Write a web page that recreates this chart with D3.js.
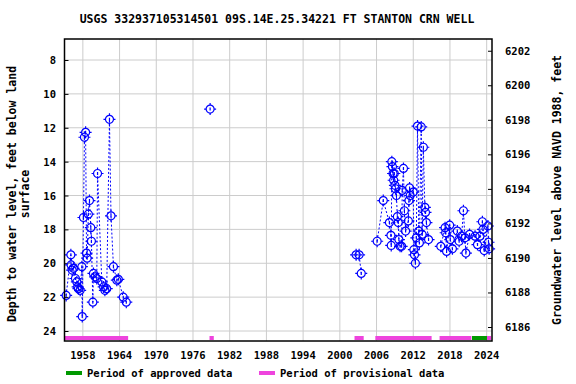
<!DOCTYPE html>
<html>
<head>
<meta charset="utf-8">
<script src="https://cdn.jsdelivr.net/npm/d3@7"></script>
<style>
  body { margin: 0; background: #FFFFFF; }
  text { font-family: "DejaVu Sans Mono", monospace; font-weight: bold; font-size: 11.5px; fill: #000000; }
  text.small { font-size: 10.5px; }
</style>
</head>
<body>
<div id="chart"></div>
<script>
// measurements: decimal year, depth below land surface (ft)
const years = [
    1955.27, 1956.04, 1956.08, 1956.25, 1956.46, 1956.79, 1957.02, 1957.15, 1957.28, 1957.56,
    1957.84, 1957.90, 1958.10, 1958.26, 1958.45, 1958.60, 1958.70, 1958.90, 1959.08, 1959.30,
    1959.40, 1959.63, 1959.73, 1960.00, 1960.28, 1960.40, 1961.10, 1961.40, 1961.60, 1961.90,
    1962.35, 1962.60, 1963.00, 1963.55, 1963.80, 1964.60, 1965.10,
    1978.80,
    2002.66, 2003.15, 2003.50,
    2006.10, 2007.10, 2008.10, 2008.35, 2008.40, 2008.50, 2008.60, 2008.70, 2008.80, 2008.90,
    2009.00, 2009.10, 2009.25, 2009.40, 2009.55, 2009.65, 2009.85, 2010.10, 2010.20, 2010.40,
    2010.55, 2010.75, 2011.20, 2011.30, 2011.40, 2011.50, 2012.00, 2012.10, 2012.20, 2012.35,
    2012.50, 2012.70, 2012.90, 2013.00, 2013.30, 2013.45, 2013.65, 2013.90, 2014.00, 2014.15,
    2014.50,
    2016.50, 2017.20, 2017.30, 2017.45, 2017.95, 2018.05, 2018.40, 2019.20, 2019.50, 2019.90,
    2020.20, 2020.45, 2020.60, 2021.20, 2022.10, 2022.50, 2022.90, 2023.30, 2023.40, 2023.60,
    2024.20, 2024.30, 2024.40
];
const depths = [
    21.9, 19.5, 20.1, 20.4, 20.3, 20.9, 21.1, 21.4, 21.5, 21.6,
    20.2, 23.15, 17.3, 12.56, 12.27, 19.4, 19.7, 17.1, 16.3, 17.9,
    18.7, 22.3, 20.6, 20.8, 20.9, 14.7, 21.1, 21.4, 21.6, 21.5,
    11.5, 17.2, 20.2, 21.0, 20.95, 22.0, 22.3,
    10.9,
    19.5, 19.5, 20.6,
    18.7, 16.3, 17.6, 18.35, 18.95, 14.0, 14.3, 14.7, 15.1, 14.7,
    15.4, 15.6, 16.0, 17.25, 17.6, 18.6, 19.0, 19.0, 15.7, 14.4,
    16.9, 18.1, 17.5, 16.3, 15.55, 16.0, 15.8, 19.2, 19.5, 20.0,
    18.5, 11.9, 18.1, 18.8, 11.95, 18.3, 13.15, 16.7, 17.0, 17.6,
    18.6,
    19.0, 17.9, 18.2, 19.3, 17.75, 18.6, 19.15, 18.1, 18.7, 18.4,
    16.9, 18.5, 19.4, 18.3, 18.4, 18.9, 18.4, 17.55, 18.0, 19.25,
    17.8, 18.76, 19.15
];

// data-quality periods along the bottom
const periodStart = [1955.05, 1978.7, 2002.4, 2005.8, 2016.3, 2021.6, 2024.05];
const periodEnd   = [1965.4, 1979.4, 2003.9, 2015.0, 2021.5, 2024.05, 2024.7];
const periodType  = ["provisional", "provisional", "provisional", "provisional", "provisional", "approved", "provisional"];

const xTicks = [1958, 1964, 1970, 1976, 1982, 1988, 1994, 2000, 2006, 2012, 2018, 2024];
const depthTicks = [8, 10, 12, 14, 16, 18, 20, 22, 24];
const elevTicks = [6186, 6188, 6190, 6192, 6194, 6196, 6198, 6200, 6202];

const svgAttr = { width: 576, height: 384 };
const plot = { left: 64.5, right: 492, top: 39, bottom: 341 };
const colors = {
    point: "#0000FF",
    grid: "#CCCCCC",
    approved: "#009900",
    provisional: "#EE44DD"
};

const x = d3.scaleLinear().domain([1955.0, 2024.87]).range([plot.left, plot.right]);
const yDepth = d3.scaleLinear().domain([6.76, 24.59]).range([plot.top, plot.bottom]);
const yElev = d3.scaleLinear().domain([6202.68, 6185.19]).range([plot.top, plot.bottom]);

const svg = d3.select("#chart")
              .append("svg")
              .attr("width", svgAttr.width)
              .attr("height", svgAttr.height);

// title
svg.append("text")
   .attr("x", 277)
   .attr("y", 23)
   .attr("text-anchor", "middle")
   .text("USGS 332937105314501 09S.14E.25.34221 FT STANTON CRN WELL");

// grid
svg.append("g")
   .selectAll("line")
   .data(xTicks)
   .join("line")
   .attr("x1", d => x(d)).attr("x2", d => x(d))
   .attr("y1", plot.top).attr("y2", plot.bottom)
   .attr("stroke", colors.grid);

svg.append("g")
   .selectAll("line")
   .data(depthTicks)
   .join("line")
   .attr("x1", plot.left).attr("x2", plot.right)
   .attr("y1", d => yDepth(d)).attr("y2", d => yDepth(d))
   .attr("stroke", colors.grid);

// axes (ticks pointing inward)
const leftAxis = svg.append("g")
   .attr("transform", `translate(${plot.left},0)`)
   .call(d3.axisRight(yDepth).tickValues(depthTicks).tickSize(4).tickFormat(""));
leftAxis.select(".domain").remove();
svg.append("g")
   .selectAll("text")
   .data(depthTicks)
   .join("text")
   .attr("class", "small")
   .attr("x", 56)
   .attr("y", d => yDepth(d) + 4)
   .attr("text-anchor", "end")
   .text(d => d);

const rightAxis = svg.append("g")
   .attr("transform", `translate(${plot.right},0)`)
   .call(d3.axisLeft(yElev).tickValues(elevTicks).tickSize(4).tickFormat(""));
rightAxis.select(".domain").remove();
svg.append("g")
   .selectAll("text")
   .data(elevTicks)
   .join("text")
   .attr("class", "small")
   .attr("x", 505)
   .attr("y", d => yElev(d) + 4)
   .attr("text-anchor", "start")
   .text(d => d);

svg.append("g")
   .selectAll("text")
   .data(xTicks)
   .join("text")
   .attr("class", "small")
   .attr("x", d => x(d))
   .attr("y", 359)
   .attr("text-anchor", "middle")
   .text(d => d);

// axis titles
svg.append("text")
   .attr("transform", "translate(16,194) rotate(-90)")
   .attr("text-anchor", "middle")
   .text("Depth to water level, feet below land");
svg.append("text")
   .attr("transform", "translate(29,194) rotate(-90)")
   .attr("text-anchor", "middle")
   .text("surface");
svg.append("text")
   .attr("transform", "translate(561,190) rotate(-90)")
   .attr("text-anchor", "middle")
   .text("Groundwater level above NAVD 1988, feet");

// period bars
svg.append("g")
   .selectAll("rect")
   .data(periodStart.map((s, i) => ({ s: s, e: periodEnd[i], t: periodType[i] })))
   .join("rect")
   .attr("x", d => x(d.s))
   .attr("y", 336)
   .attr("width", d => x(d.e) - x(d.s))
   .attr("height", 4)
   .attr("fill", d => colors[d.t]);

// connecting lines, broken across long gaps
const points = years.map((y, i) => ({ year: y, depth: depths[i] }));
const segments = [];
points.forEach((p, i) => {
    if (i === 0 || p.year - points[i - 1].year > 1.5) segments.push([]);
    segments[segments.length - 1].push(p);
});
const line = d3.line().x(d => x(d.year)).y(d => yDepth(d.depth));
svg.append("g")
   .selectAll("path")
   .data(segments.filter(s => s.length > 1))
   .join("path")
   .attr("d", line)
   .attr("fill", "none")
   .attr("stroke", colors.point)
   .attr("stroke-width", 1)
   .attr("stroke-dasharray", "2,2");

// markers: circle with small ticks
const marker = svg.append("g")
   .selectAll("g")
   .data(points)
   .join("g")
   .attr("transform", d => `translate(${x(d.year)},${yDepth(d.depth)})`)
   .attr("stroke", colors.point)
   .attr("stroke-width", 1.2)
   .attr("fill", "none");
marker.append("circle").attr("r", 4);
marker.append("path").attr("d", "M0,-6V-4M0,4V6M-6,0H-4M4,0H6M0,-1.5V1.5");

// plot frame
svg.append("rect")
   .attr("x", plot.left)
   .attr("y", plot.top)
   .attr("width", plot.right - plot.left)
   .attr("height", plot.bottom - plot.top)
   .attr("fill", "none")
   .attr("stroke", "#000000")
   .attr("stroke-width", 1.5);

// legend
const legend = [
    { label: "Period of approved data", color: colors.approved, x: 66 },
    { label: "Period of provisional data", color: colors.provisional, x: 259 }
];
legend.forEach(d => {
    svg.append("rect")
       .attr("x", d.x).attr("y", 371)
       .attr("width", 16).attr("height", 4)
       .attr("fill", d.color);
    svg.append("text")
       .attr("class", "small")
       .attr("x", d.x + 21).attr("y", 377)
       .text(d.label);
});
</script>
</body>
</html>
